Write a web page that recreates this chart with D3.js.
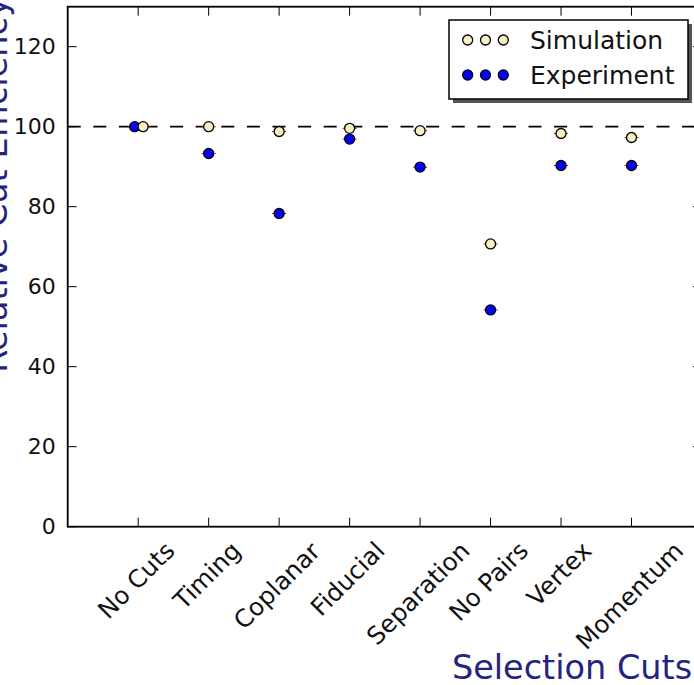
<!DOCTYPE html>
<html>
<head>
<meta charset="utf-8">
<script src="https://cdn.jsdelivr.net/npm/d3@7"></script>
<style>
	body { margin: 0; background: #fff; }
	svg { display: block; font-family: "DejaVu Sans", sans-serif; }
</style>
</head>
<body>
<svg id="chart" width="694" height="685"></svg>
<script>
// cut names along x
const cuts = ["No Cuts", "Timing", "Coplanar", "Fiducial", "Separation", "No Pairs", "Vertex", "Momentum"];
// relative efficiencies (%)
const simValues = [100, 100, 98.8, 99.6, 99.0, 70.7, 98.3, 97.3];
const expValues = [100, 93.3, 78.3, 96.9, 89.9, 54.2, 90.3, 90.3];
// small x shifts used on the first category in the original plot
const simShift = [0.07, 0, 0, 0, 0, 0, 0, 0];
const expShift = [-0.05, 0, 0, 0, 0, 0, 0, 0];
const xErr = 0.1;
const yTicks = [0, 20, 40, 60, 80, 100, 120];
const refLine = 100;

const svg = d3.select("svg#chart");
const plotLeft = 67.7, plotRight = 702, plotTop = 6.7, plotBottom = 526.7;

const x = d3.scaleLinear().domain([-1, 8]).range([plotLeft, plotRight]);
const y = d3.scaleLinear().domain([0, 130]).range([plotBottom, plotTop]);

const tickLen = 9;
const axisCol = "#000";

// reference line at 100
svg.append("line")
	.attr("x1", plotLeft)
	.attr("x2", plotRight)
	.attr("y1", y(refLine))
	.attr("y2", y(refLine))
	.style("stroke", "#000")
	.style("stroke-width", 1.8)
	.style("stroke-dasharray", "13,12.6");

// y ticks, left and right (pointing inward)
yTicks.forEach(function (t) {
	svg.append("line")
		.attr("x1", plotLeft).attr("x2", plotLeft + tickLen)
		.attr("y1", y(t)).attr("y2", y(t))
		.style("stroke", axisCol).style("stroke-width", 1);
	svg.append("line")
		.attr("x1", plotRight).attr("x2", plotRight - tickLen)
		.attr("y1", y(t)).attr("y2", y(t))
		.style("stroke", axisCol).style("stroke-width", 1);
	svg.append("text")
		.attr("x", plotLeft - 12)
		.attr("y", y(t))
		.attr("text-anchor", "end")
		.attr("dominant-baseline", "central")
		.style("font-size", "22px")
		.style("fill", "#111")
		.text(t);
});

// x ticks, bottom and top
cuts.forEach(function (c, i) {
	svg.append("line")
		.attr("x1", x(i)).attr("x2", x(i))
		.attr("y1", plotBottom).attr("y2", plotBottom - tickLen)
		.style("stroke", axisCol).style("stroke-width", 1);
	svg.append("line")
		.attr("x1", x(i)).attr("x2", x(i))
		.attr("y1", plotTop).attr("y2", plotTop + tickLen)
		.style("stroke", axisCol).style("stroke-width", 1);

	// rotated label, box centred on the tick, top just under the axis
	const lbl = svg.append("text")
		.attr("text-anchor", "middle")
		.attr("dominant-baseline", "central")
		.style("font-size", "24.5px")
		.style("fill", "#111")
		.text(c);
	lbl.attr("transform", `translate(${x(i)},600) rotate(-45)`);
	const r = lbl.node().getBoundingClientRect();
	const dy = 536 - r.top;
	const dx = x(i) - 2 - (r.left + r.width / 2);
	lbl.attr("transform", `translate(${x(i) + dx},${600 + dy}) rotate(-45)`);
});

// spines
svg.append("rect")
	.attr("x", plotLeft)
	.attr("y", plotTop)
	.attr("width", plotRight - plotLeft)
	.attr("height", plotBottom - plotTop)
	.style("fill", "none")
	.style("stroke", axisCol)
	.style("stroke-width", 1.8);

// points with tiny red x error bars
function drawSeries(vals, shifts, fill) {
	vals.forEach(function (v, i) {
		const cx = x(i + shifts[i]);
		svg.append("line")
			.attr("x1", x(i + shifts[i] - xErr))
			.attr("x2", x(i + shifts[i] + xErr))
			.attr("y1", y(v)).attr("y2", y(v))
			.style("stroke", "red").style("stroke-width", 1);
		svg.append("circle")
			.attr("cx", cx)
			.attr("cy", y(v))
			.attr("r", 5)
			.style("fill", fill)
			.style("stroke", "#000")
			.style("stroke-width", 1.3);
	});
}
drawSeries(expValues, expShift, "#0000ff");
drawSeries(simValues, simShift, "#f7f0c2");

// legend
const lg = svg.append("g");
lg.append("rect")
	.attr("x", 453).attr("y", 24)
	.attr("width", 239).attr("height", 79)
	.style("fill", "#555");
lg.append("rect")
	.attr("x", 449).attr("y", 20)
	.attr("width", 239).attr("height", 79)
	.style("fill", "#fff")
	.style("stroke", "#000")
	.style("stroke-width", 1.5);

const legendItems = [
	{ name: "Simulation", fill: "#f7f0c2" },
	{ name: "Experiment", fill: "#0000ff" }
];
legendItems.forEach(function (d, k) {
	const ly = 40 + k * 35;
	[467.7, 485.5, 503.3].forEach(function (mx) {
		lg.append("circle")
			.attr("cx", mx).attr("cy", ly).attr("r", 5)
			.style("fill", d.fill)
			.style("stroke", "#000")
			.style("stroke-width", 1.3);
	});
	lg.append("text")
		.attr("x", 530)
		.attr("y", ly + 8.8)
		.style("font-size", "25px")
		.style("fill", "#111")
		.text(d.name);
});

// axis titles
svg.append("text")
	.attr("x", 572)
	.attr("y", 679)
	.attr("text-anchor", "middle")
	.style("font-size", "33.5px")
	.style("fill", "#24247f")
	.text("Selection Cuts");

svg.append("text")
	.attr("transform", "translate(7,185) rotate(-90)")
	.attr("text-anchor", "middle")
	.style("font-size", "33.5px")
	.style("fill", "#24247f")
	.text("Relative Cut Efficiency");
</script>
</body>
</html>
